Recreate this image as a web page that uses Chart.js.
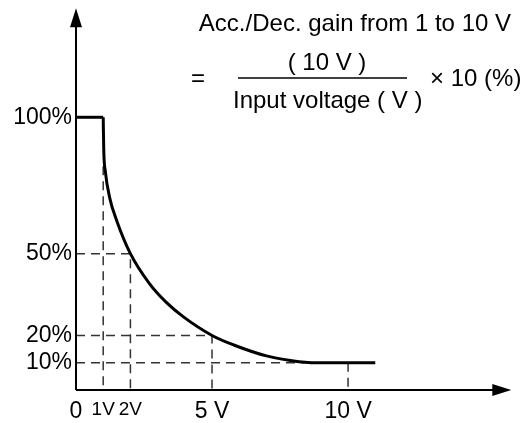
<!DOCTYPE html>
<html>
<head>
<meta charset="utf-8">
<script src="https://cdn.jsdelivr.net/npm/chart.js@4/dist/chart.umd.min.js"></script>
<style>
  html, body { margin: 0; padding: 0; background: #fff; }
  #gain { display: block; }
</style>
</head>
<body>
<canvas id="gain" width="523" height="423"></canvas>
<script>
// Acc./Dec. gain vs input voltage — curve
const FONT = '"Liberation Sans", Arial, sans-serif';

const curveV   = [1, 1.02, 1.08, 1.25, 1.5, 2, 2.7, 3.3, 3.95, 5, 5.8, 7, 8.2, 9.2, 10, 11];
const curvePct = [100, 88, 80, 70, 62, 50, 39, 32.3, 26.8, 20, 16.5, 12.5, 10.4, 9.95, 10, 10];
const flatV    = [0, 1];
const flatPct  = [100, 100];

const xTickVals   = [0, 1, 2, 5, 10];
const xTickLabels = ['0', '1V', '2V', '5 V', '10 V'];
const yTickVals   = [10, 20, 50, 100];
const yTickLabels = ['10%', '20%', '50%', '100%'];

// dashed guide lines: [x, y] pairs
const guides = [
  [[1, 82], [1, 0]],
  [[0, 50], [2, 50], [2, 0]],
  [[0, 20], [5, 20], [5, 0]],
  [[0, 10], [8.4, 10]],
  [[10, 10], [10, 0]]
];

const pts = (xs, ys) => xs.map((x, i) => ({ x, y: ys[i] }));

const guideSets = guides.map(g => ({
  data: g.map(([x, y]) => ({ x, y })),
  borderColor: '#333', borderWidth: 1.5, borderDash: [9, 6],
  pointRadius: 0, tension: 0, fill: false
}));

const axesAndText = {
  id: 'axesAndText',
  afterDraw(chart) {
    const { ctx, scales: { x, y } } = chart;
    const x0 = x.getPixelForValue(0), y0 = y.getPixelForValue(0);
    const yTop = y.getPixelForValue(140), xEnd = x.getPixelForValue(16);
    ctx.save();
    ctx.strokeStyle = '#000'; ctx.fillStyle = '#000'; ctx.lineWidth = 2;
    ctx.beginPath();
    ctx.moveTo(x0, y0); ctx.lineTo(x0, yTop + 16);
    ctx.moveTo(x0, y0); ctx.lineTo(xEnd - 16, y0);
    ctx.stroke();
    ctx.beginPath();
    ctx.moveTo(x0, yTop); ctx.lineTo(x0 - 6, yTop + 19); ctx.lineTo(x0 + 6, yTop + 19); ctx.closePath();
    ctx.moveTo(xEnd, y0); ctx.lineTo(xEnd - 19, y0 - 6); ctx.lineTo(xEnd - 19, y0 + 6); ctx.closePath();
    ctx.fill();

    // formula
    ctx.font = '24px ' + FONT;
    ctx.textBaseline = 'alphabetic';
    ctx.textAlign = 'right';
    ctx.fillText('Acc./Dec. gain from 1 to 10 V', 511, 31);
    ctx.textAlign = 'center';
    ctx.fillText('( 10 V )', 327, 70);
    ctx.textAlign = 'left';
    ctx.fillText('Input voltage ( V )', 233, 108);
    ctx.fillText('=', 191, 86);
    ctx.fillText('\u00d7 10 (%)', 430, 86);
    ctx.lineWidth = 1.5;
    ctx.beginPath(); ctx.moveTo(238, 78); ctx.lineTo(407, 78); ctx.stroke();
    ctx.restore();
  }
};

new Chart(document.getElementById('gain'), {
  type: 'line',
  data: {
    datasets: [
      { data: pts(curveV, curvePct), borderColor: '#000', borderWidth: 3, pointRadius: 0,
        cubicInterpolationMode: 'monotone', fill: false },
      { data: pts(flatV, flatPct), borderColor: '#000', borderWidth: 3, pointRadius: 0, tension: 0, fill: false },
      ...guideSets
    ]
  },
  options: {
    responsive: false,
    animation: false,
    events: [],
    layout: { padding: 0 },
    plugins: { legend: { display: false }, tooltip: { enabled: false } },
    scales: {
      x: {
        type: 'linear', min: 0, max: 16.43,
        grid: { display: false, drawTicks: false }, border: { display: false },
        afterBuildTicks: s => { s.ticks = xTickVals.map(v => ({ value: v })); },
        afterFit: s => { s.height = 33; s.paddingLeft = 0; s.paddingRight = 0; },
        ticks: {
          padding: 8, color: '#000', autoSkip: false, maxRotation: 0,
          callback: v => xTickLabels[xTickVals.indexOf(v)],
          font: c => ({ family: FONT, size: (c.tick && (c.tick.value === 1 || c.tick.value === 2)) ? 19 : 23 })
        }
      },
      y: {
        type: 'linear', min: 0, max: 143,
        grid: { display: false, drawTicks: false }, border: { display: false },
        afterBuildTicks: s => { s.ticks = yTickVals.map(v => ({ value: v })); },
        afterFit: s => { s.width = 76; s.paddingTop = 0; s.paddingBottom = 0; },
        ticks: {
          padding: 4, color: '#000', autoSkip: false,
          callback: v => yTickLabels[yTickVals.indexOf(v)],
          font: { family: FONT, size: 23 }
        }
      }
    }
  },
  plugins: [axesAndText]
});
</script>
</body>
</html>
